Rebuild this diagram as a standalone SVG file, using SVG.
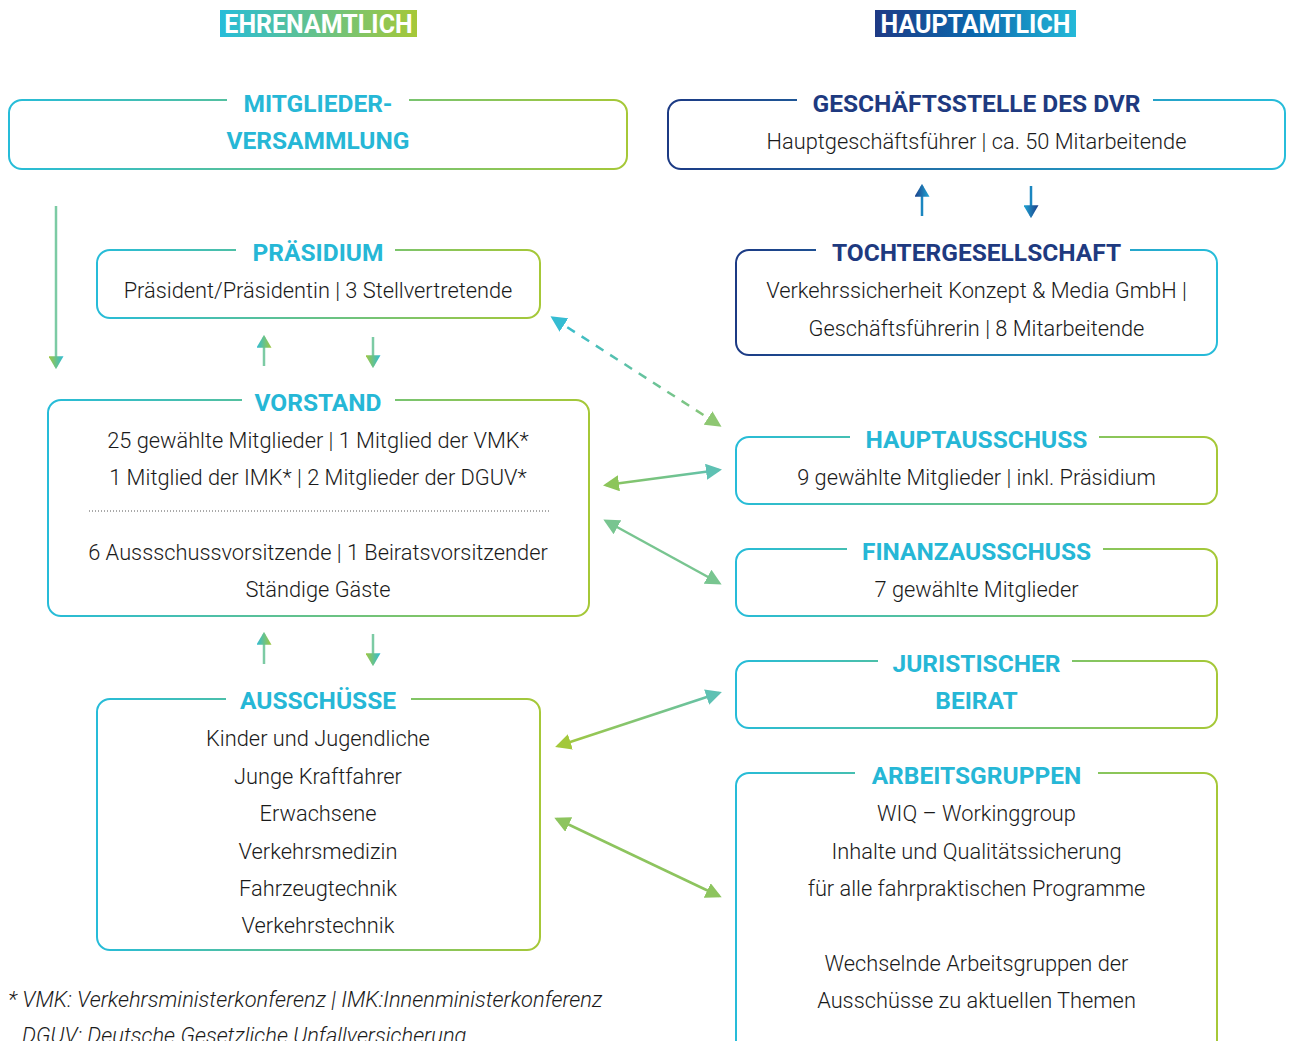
<svg xmlns="http://www.w3.org/2000/svg" width="1292" height="1041" viewBox="0 0 1292 1041">
  <defs>
    <linearGradient id="gL" x1="0" y1="0" x2="1" y2="0">
      <stop offset="0" stop-color="#26bcd9"/>
      <stop offset="1" stop-color="#a6c837"/>
    </linearGradient>
    <linearGradient id="gN" x1="0" y1="0" x2="1" y2="0">
      <stop offset="0" stop-color="#1c3a84"/>
      <stop offset="1" stop-color="#27bdda"/>
    </linearGradient>
    <linearGradient id="gHead" x1="0" y1="0" x2="1" y2="0">
      <stop offset="0" stop-color="#1e3a85"/>
      <stop offset="0.5" stop-color="#0b68ad"/>
      <stop offset="1" stop-color="#24b9d9"/>
    </linearGradient>
    <!-- heads: gradient runs across the triangle -->
    <linearGradient id="gTipL" x1="0" y1="0" x2="0" y2="1">
      <stop offset="0" stop-color="#2fbcd6"/>
      <stop offset="1" stop-color="#a2c83f"/>
    </linearGradient>
    <linearGradient id="gTipN" x1="0" y1="0" x2="0" y2="1">
      <stop offset="0" stop-color="#1c3d88"/>
      <stop offset="1" stop-color="#1fa8d6"/>
    </linearGradient>
    <linearGradient id="lnHaupt" gradientUnits="userSpaceOnUse" x1="606" y1="0" x2="719" y2="0">
      <stop offset="0" stop-color="#8cc55a"/>
      <stop offset="1" stop-color="#5ec1b3"/>
    </linearGradient>
    <linearGradient id="lnDash" gradientUnits="userSpaceOnUse" x1="553" y1="0" x2="719" y2="0">
      <stop offset="0" stop-color="#33bcd3"/>
      <stop offset="1" stop-color="#8ec772"/>
    </linearGradient>
    <linearGradient id="lnJur" gradientUnits="userSpaceOnUse" x1="558" y1="0" x2="719" y2="0">
      <stop offset="0" stop-color="#a3c83b"/>
      <stop offset="1" stop-color="#60c1b0"/>
    </linearGradient>

    <marker id="tipL" viewBox="0 0 12 14" markerWidth="13" markerHeight="15" refX="10" refY="7" orient="auto" markerUnits="userSpaceOnUse">
      <path d="M0,0 L12,7 L0,14 z" fill="url(#gTipL)"/>
    </marker>
    <marker id="tipN" viewBox="0 0 12 14" markerWidth="13" markerHeight="15" refX="10" refY="7" orient="auto" markerUnits="userSpaceOnUse">
      <path d="M0,0 L12,7 L0,14 z" fill="url(#gTipN)"/>
    </marker>
    <marker id="mGreen" viewBox="0 0 16 16" markerWidth="16" markerHeight="16" refX="13" refY="8" orient="auto-start-reverse" markerUnits="userSpaceOnUse">
      <path d="M0,0 L16,8 L0,16 z" fill="#8cc55a"/>
    </marker>
    <marker id="mTeal" viewBox="0 0 16 16" markerWidth="16" markerHeight="16" refX="13" refY="8" orient="auto-start-reverse" markerUnits="userSpaceOnUse">
      <path d="M0,0 L16,8 L0,16 z" fill="#5ec1b3"/>
    </marker>
    <marker id="mMint" viewBox="0 0 16 16" markerWidth="16" markerHeight="16" refX="13" refY="8" orient="auto-start-reverse" markerUnits="userSpaceOnUse">
      <path d="M0,0 L16,8 L0,16 z" fill="#78c590"/>
    </marker>
    <marker id="mCyan" viewBox="0 0 16 16" markerWidth="16" markerHeight="16" refX="13" refY="8" orient="auto-start-reverse" markerUnits="userSpaceOnUse">
      <path d="M0,0 L16,8 L0,16 z" fill="#35bcd2"/>
    </marker>
    <marker id="mLeaf" viewBox="0 0 16 16" markerWidth="16" markerHeight="16" refX="13" refY="8" orient="auto-start-reverse" markerUnits="userSpaceOnUse">
      <path d="M0,0 L16,8 L0,16 z" fill="#8ec772"/>
    </marker>
    <marker id="mLime" viewBox="0 0 16 16" markerWidth="16" markerHeight="16" refX="13" refY="8" orient="auto-start-reverse" markerUnits="userSpaceOnUse">
      <path d="M0,0 L16,8 L0,16 z" fill="#a3c83b"/>
    </marker>
    <marker id="mAg" viewBox="0 0 16 16" markerWidth="16" markerHeight="16" refX="13" refY="8" orient="auto-start-reverse" markerUnits="userSpaceOnUse">
      <path d="M0,0 L16,8 L0,16 z" fill="#8dc45e"/>
    </marker>
  </defs>
  <style>
    text { font-family: Roboto, "Liberation Sans", sans-serif; }
    .box { fill: #ffffff; stroke-width: 2; }
    .bl { stroke: url(#gL); }
    .bn { stroke: url(#gN); }
    .gap { fill: #ffffff; }
    .title { font-size: 24.5px; font-weight: 700; text-anchor: middle; fill: #26b7d6; }
    .navy { fill: #1e3a80; }
    .body { font-size: 21.8px; font-weight: 300; text-anchor: middle; fill: #1a1a1a; }
    .tag { font-size: 25px; font-weight: 700; text-anchor: middle; fill: #ffffff; }
    .note { font-size: 21.9px; font-weight: 300; font-style: italic; fill: #1a1a1a; }
    .vg { stroke: #7ccba4; stroke-width: 2.5; fill: none; }
    .vn { stroke: #1b86c0; stroke-width: 2.5; fill: none; }
    .diag { stroke-width: 2.5; fill: none; }
  </style>

  <rect width="1292" height="1041" fill="#ffffff"/>

  <!-- column headings -->
  <g id="head-ehrenamtlich">
    <rect x="220" y="10" width="197" height="27" fill="url(#gL)"/>
    <text class="tag" x="318.5" y="33">EHRENAMTLICH</text>
  </g>
  <g id="head-hauptamtlich">
    <rect x="875" y="10" width="201" height="27" fill="url(#gHead)"/>
    <text class="tag" x="975.5" y="33">HAUPTAMTLICH</text>
  </g>

  <!-- left column -->
  <g id="mitgliederversammlung">
    <rect class="box bl" x="9" y="100" width="618" height="69" rx="13"/>
    <rect class="gap" x="227" y="94" width="182" height="12"/>
    <text class="title" x="318" y="112">MITGLIEDER-</text>
    <text class="title" x="318" y="149">VERSAMMLUNG</text>
  </g>

  <g id="praesidium">
    <rect class="box bl" x="97" y="250" width="443" height="68" rx="13"/>
    <rect class="gap" x="236" y="244" width="159" height="12"/>
    <text class="title" x="318" y="261">PRÄSIDIUM</text>
    <text class="body" x="318" y="298">Präsident/Präsidentin | 3 Stellvertretende</text>
  </g>

  <g id="vorstand">
    <rect class="box bl" x="48" y="400" width="541" height="216" rx="13"/>
    <rect class="gap" x="242" y="394" width="153" height="12"/>
    <text class="title" x="318" y="411">VORSTAND</text>
    <text class="body" x="318" y="448">25 gewählte Mitglieder | 1 Mitglied der VMK*</text>
    <text class="body" x="318" y="485">1 Mitglied der IMK* | 2 Mitglieder der DGUV*</text>
    <line x1="89" y1="511" x2="549" y2="511" stroke="#555555" stroke-width="1" stroke-dasharray="1 2"/>
    <text class="body" x="318" y="560">6 Aussschussvorsitzende | 1 Beiratsvorsitzender</text>
    <text class="body" x="318" y="597">Ständige Gäste</text>
  </g>

  <g id="ausschuesse">
    <rect class="box bl" x="97" y="699" width="443" height="251" rx="13"/>
    <rect class="gap" x="226" y="693" width="185" height="12"/>
    <text class="title" x="318" y="709">AUSSCHÜSSE</text>
    <text class="body" x="318" y="746">Kinder und Jugendliche</text>
    <text class="body" x="318" y="784">Junge Kraftfahrer</text>
    <text class="body" x="318" y="821">Erwachsene</text>
    <text class="body" x="318" y="859">Verkehrsmedizin</text>
    <text class="body" x="318" y="896">Fahrzeugtechnik</text>
    <text class="body" x="318" y="933">Verkehrstechnik</text>
  </g>

  <!-- right column -->
  <g id="geschaeftsstelle">
    <rect class="box bn" x="668" y="100" width="617" height="69" rx="13"/>
    <rect class="gap" x="797" y="94" width="356" height="12"/>
    <text class="title navy" x="976.5" y="112">GESCHÄFTSSTELLE DES DVR</text>
    <text class="body" x="976.5" y="149">Hauptgeschäftsführer | ca. 50 Mitarbeitende</text>
  </g>

  <g id="tochtergesellschaft">
    <rect class="box bn" x="736" y="250" width="481" height="105" rx="13"/>
    <rect class="gap" x="816" y="244" width="314" height="12"/>
    <text class="title navy" x="976.5" y="261">TOCHTERGESELLSCHAFT</text>
    <text class="body" x="976.5" y="298">Verkehrssicherheit Konzept &amp; Media GmbH |</text>
    <text class="body" x="976.5" y="336">Geschäftsführerin | 8 Mitarbeitende</text>
  </g>

  <g id="hauptausschuss">
    <rect class="box bl" x="736" y="437" width="481" height="67" rx="13"/>
    <rect class="gap" x="850" y="431" width="249" height="12"/>
    <text class="title" x="976.5" y="448">HAUPTAUSSCHUSS</text>
    <text class="body" x="976.5" y="485">9 gewählte Mitglieder | inkl. Präsidium</text>
  </g>

  <g id="finanzausschuss">
    <rect class="box bl" x="736" y="549" width="481" height="67" rx="13"/>
    <rect class="gap" x="847" y="543" width="256" height="12"/>
    <text class="title" x="976.5" y="560">FINANZAUSSCHUSS</text>
    <text class="body" x="976.5" y="597">7 gewählte Mitglieder</text>
  </g>

  <g id="juristischer-beirat">
    <rect class="box bl" x="736" y="661" width="481" height="67" rx="13"/>
    <rect class="gap" x="878" y="655" width="194" height="12"/>
    <text class="title" x="976.5" y="672">JURISTISCHER</text>
    <text class="title" x="976.5" y="709">BEIRAT</text>
  </g>

  <g id="arbeitsgruppen">
    <rect class="box bl" x="736" y="773" width="481" height="290" rx="13"/>
    <rect class="gap" x="855" y="767" width="243" height="12"/>
    <text class="title" x="976.5" y="784">ARBEITSGRUPPEN</text>
    <text class="body" x="976.5" y="821">WIQ – Workinggroup</text>
    <text class="body" x="976.5" y="859">Inhalte und Qualitätssicherung</text>
    <text class="body" x="976.5" y="896">für alle fahrpraktischen Programme</text>
    <text class="body" x="976.5" y="971">Wechselnde Arbeitsgruppen der</text>
    <text class="body" x="976.5" y="1008">Ausschüsse zu aktuellen Themen</text>
  </g>

  <!-- connectors -->
  <g id="connectors">
    <path class="vg" d="M56,206 V367" marker-end="url(#tipL)"/>
    <path class="vg" d="M264,366 V337" marker-end="url(#tipL)"/>
    <path class="vg" d="M373,337 V366" marker-end="url(#tipL)"/>
    <path class="vg" d="M264,664 V634" marker-end="url(#tipL)"/>
    <path class="vg" d="M373,634 V664" marker-end="url(#tipL)"/>
    <path class="vn" d="M922,216 V186" marker-end="url(#tipN)"/>
    <path class="vn" d="M1031,186 V216" marker-end="url(#tipN)"/>

    <path class="diag" d="M553,318 L719,425" stroke="url(#lnDash)" stroke-dasharray="9 8" marker-start="url(#mCyan)" marker-end="url(#mLeaf)"/>
    <path class="diag" d="M606,485 L719,470" stroke="url(#lnHaupt)" marker-start="url(#mGreen)" marker-end="url(#mTeal)"/>
    <path class="diag" d="M606,521 L719,583" stroke="#78c590" marker-start="url(#mMint)" marker-end="url(#mMint)"/>
    <path class="diag" d="M558,746 L719,693" stroke="url(#lnJur)" marker-start="url(#mLime)" marker-end="url(#mTeal)"/>
    <path class="diag" d="M557,819 L719,896" stroke="#8dc45e" marker-start="url(#mAg)" marker-end="url(#mAg)"/>
  </g>

  <!-- footnote -->
  <g id="footnote">
    <text class="note" x="8" y="1007">* VMK: Verkehrsministerkonferenz | IMK:Innenministerkonferenz</text>
    <text class="note" x="22" y="1043">DGUV: Deutsche Gesetzliche Unfallversicherung</text>
  </g>
</svg>
